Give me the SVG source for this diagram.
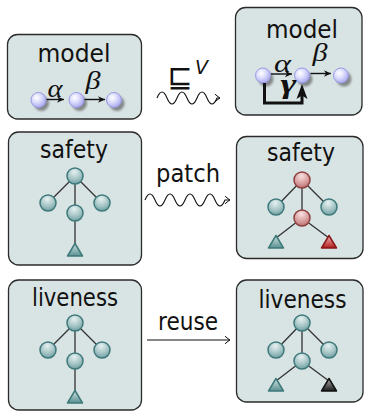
<svg xmlns="http://www.w3.org/2000/svg" width="365" height="411" viewBox="0 0 365 411">
<defs>
<style>
.box{fill:#d8e3e3;stroke:#2b2b2b;stroke-width:1.3}
.lbl{font-family:"DejaVu Sans","Liberation Sans",sans-serif;font-size:24px;fill:#111;text-anchor:middle}
.greek{font-family:"Liberation Serif","DejaVu Serif",serif;font-style:italic;font-size:25px;fill:#111;text-anchor:middle}
.edge{stroke:#333;stroke-width:1.3;fill:none}
.tn{fill:url(#gTeal);stroke:#3e797b;stroke-width:1.5}
.rn{fill:url(#gRed);stroke:#8c4040;stroke-width:1.5}
.tt{fill:url(#gTealT);stroke:#3e797b;stroke-width:1.5;stroke-linejoin:round}
.rt{fill:url(#gRedT);stroke:#8a1818;stroke-width:1.5;stroke-linejoin:round}
.kt{fill:url(#gBlackT);stroke:#111;stroke-width:1.5;stroke-linejoin:round}
.ln{fill:url(#gLav);stroke:#9a9ae6;stroke-width:1}
.sh{fill:#6a6a6a;opacity:0.75;filter:url(#blur)}
.conn{stroke:#111;stroke-width:1.1;fill:none}
.small{stroke:#111;stroke-width:1.4;fill:none}
</style>
<radialGradient id="gLav" cx="0.38" cy="0.35" r="0.7">
<stop offset="0" stop-color="#ffffff"/>
<stop offset="0.45" stop-color="#dcdcfc"/>
<stop offset="1" stop-color="#a4a4ee"/>
</radialGradient>
<radialGradient id="gTeal" cx="0.45" cy="0.25" r="0.85">
<stop offset="0" stop-color="#e6f0f0"/>
<stop offset="0.5" stop-color="#a9c7c8"/>
<stop offset="1" stop-color="#5f9497"/>
</radialGradient>
<radialGradient id="gRed" cx="0.45" cy="0.25" r="0.85">
<stop offset="0" stop-color="#f8e0e0"/>
<stop offset="0.5" stop-color="#dba4a4"/>
<stop offset="1" stop-color="#b35e5e"/>
</radialGradient>
<linearGradient id="gTealT" x1="0" y1="0" x2="0" y2="1">
<stop offset="0" stop-color="#d2e3e3"/>
<stop offset="1" stop-color="#5a9092"/>
</linearGradient>
<linearGradient id="gRedT" x1="0" y1="0" x2="0" y2="1">
<stop offset="0" stop-color="#f2b8b8"/>
<stop offset="1" stop-color="#b01c1c"/>
</linearGradient>
<linearGradient id="gBlackT" x1="0" y1="0" x2="0" y2="1">
<stop offset="0" stop-color="#b0b0b0"/>
<stop offset="1" stop-color="#1a1a1a"/>
</linearGradient>
<filter id="blur" x="-50%" y="-50%" width="200%" height="200%">
<feGaussianBlur stdDeviation="0.9"/>
</filter>
<marker id="open" markerUnits="userSpaceOnUse" markerWidth="12" markerHeight="12" viewBox="-7 -6 8 12" refX="0" refY="0" orient="auto">
<path d="M-5,-3.8 Q-1.5,-0.8 0,0 Q-1.5,0.8 -5,3.8" stroke="#111" stroke-width="1" fill="none"/>
</marker>
<marker id="solid" markerUnits="userSpaceOnUse" markerWidth="10" markerHeight="10" viewBox="-8 -5 9 10" refX="0" refY="0" orient="auto">
<path d="M0,0 L-7,-3.3 L-5,0 L-7,3.3 Z" fill="#111"/>
</marker>
</defs>

<g id="model-left">
<rect class="box" x="7.5" y="34.5" width="134" height="84.5" rx="10"/>
<text class="lbl" x="74" y="62" textLength="73" lengthAdjust="spacingAndGlyphs">model</text>
<circle class="sh" cx="41.5" cy="103.5" r="7.5"/>
<circle class="sh" cx="79.5" cy="103.5" r="7.5"/>
<circle class="sh" cx="117" cy="103.5" r="7.5"/>
<circle class="ln" cx="38.5" cy="100" r="7.5"/>
<circle class="ln" cx="76.5" cy="100" r="7.5"/>
<circle class="ln" cx="114" cy="100" r="7.5"/>
<text class="greek" x="55" y="97" textLength="15" lengthAdjust="spacingAndGlyphs">α</text>
<text class="greek" x="93" y="88.5" textLength="15" lengthAdjust="spacingAndGlyphs">β</text>
</g>

<g id="model-right">
<rect class="box" x="235.5" y="7.5" width="126.5" height="107.5" rx="10"/>
<text class="lbl" x="302" y="37.5" textLength="72" lengthAdjust="spacingAndGlyphs">model</text>
<circle class="sh" cx="266" cy="79" r="7.5"/>
<circle class="sh" cx="305" cy="79" r="7.5"/>
<circle class="sh" cx="344" cy="79" r="7.5"/>
<circle class="ln" cx="263" cy="75.5" r="7.5"/>
<circle class="ln" cx="302" cy="75.5" r="7.5"/>
<circle class="ln" cx="341" cy="75.5" r="7.5"/>
<text class="greek" x="282.5" y="72" textLength="17" lengthAdjust="spacingAndGlyphs">α</text>
<text class="greek" x="320" y="61" textLength="15" lengthAdjust="spacingAndGlyphs">β</text>
<text class="greek" x="288.5" y="93" textLength="16" lengthAdjust="spacingAndGlyphs" style="font-weight:bold;font-size:27px">γ</text>
</g>

<g id="safety-left">
<rect class="box" x="8.5" y="132" width="133" height="133" rx="10"/>
<text class="lbl" x="74" y="158" textLength="68" lengthAdjust="spacingAndGlyphs">safety</text>
<path class="edge" d="M75,176 L48,203 M75,176 L102,203 M75,176 L75,213 M75,213 L75,245"/>
<circle class="tn" cx="75" cy="176" r="8"/>
<circle class="tn" cx="48" cy="203" r="8"/>
<circle class="tn" cx="102" cy="203" r="8"/>
<circle class="tn" cx="75" cy="213" r="8"/>
<polygon class="tt" points="75,243.5 82.5,256 67.5,256"/>
</g>

<g id="safety-right">
<rect class="box" x="236.5" y="136.5" width="126.5" height="122" rx="10"/>
<text class="lbl" x="301" y="161" textLength="68" lengthAdjust="spacingAndGlyphs">safety</text>
<path class="edge" d="M302,180 L276,207 M302,180 L329,207 M302,180 L302,218 M302,218 L276,238 M302,218 L329,238"/>
<circle class="rn" cx="302" cy="180" r="8"/>
<circle class="tn" cx="276" cy="207" r="8"/>
<circle class="tn" cx="329" cy="207" r="8"/>
<circle class="rn" cx="302" cy="218" r="8"/>
<polygon class="tt" points="276,235.5 283.5,248 268.5,248"/>
<polygon class="rt" points="329,235.5 336.5,248 321.5,248"/>
</g>

<g id="liveness-left">
<rect class="box" x="8.5" y="280" width="133" height="130" rx="10"/>
<text class="lbl" x="75" y="306" textLength="86" lengthAdjust="spacingAndGlyphs">liveness</text>
<path class="edge" d="M75,323 L48,350 M75,323 L102,350 M75,323 L75,361 M75,361 L75,392"/>
<circle class="tn" cx="75" cy="323" r="8"/>
<circle class="tn" cx="48" cy="350" r="8"/>
<circle class="tn" cx="102" cy="350" r="8"/>
<circle class="tn" cx="75" cy="361" r="8"/>
<polygon class="tt" points="75,390.5 82.5,403 67.5,403"/>
</g>

<g id="liveness-right">
<rect class="box" x="236.5" y="280" width="126.5" height="122" rx="10"/>
<text class="lbl" x="302.5" y="307.5" textLength="88" lengthAdjust="spacingAndGlyphs">liveness</text>
<path class="edge" d="M302,323 L276,350 M302,323 L329,350 M302,323 L302,361 M302,361 L276,381 M302,361 L329,381"/>
<circle class="tn" cx="302" cy="323" r="8"/>
<circle class="tn" cx="276" cy="350" r="8"/>
<circle class="tn" cx="329" cy="350" r="8"/>
<circle class="tn" cx="302" cy="361" r="8"/>
<polygon class="tt" points="276,378.5 283.5,391 268.5,391"/>
<polygon class="kt" points="329,378.5 336.5,391 321.5,391"/>
</g>

<g id="connectors">
<path class="small" d="M46.5,99.5 H64" marker-end="url(#solid)"/>
<path class="small" d="M84.5,99.5 H105" marker-end="url(#solid)"/>
<path class="small" d="M271,74 H292" marker-end="url(#solid)"/>
<path class="small" d="M310.5,73.5 H331" marker-end="url(#solid)"/>
<path d="M264.5,83 V103 H302 V93" stroke="#111" stroke-width="3" fill="none"/>
<polygon points="302,84 307.5,99 302,95.5 296.5,99" fill="#111"/>
<path class="conn" d="M157,98 q5,-12 10,0 t10,0 t10,0 t10,0 t10,0 t10,0 h3" marker-end="url(#open)"/>
<text x="180" y="87" style="font-family:'DejaVu Sans',sans-serif;font-size:30px;fill:#111;text-anchor:middle">⊑</text>
<text x="201.5" y="74" style="font-family:'DejaVu Sans',sans-serif;font-style:italic;font-size:19px;fill:#111;text-anchor:middle">V</text>
<path class="conn" d="M145,200 q5,-12 10,0 t10,0 t10,0 t10,0 t10,0 t10,0 t10,0 t10,0 h5" marker-end="url(#open)"/>
<text class="lbl" x="188" y="181.5" textLength="64" lengthAdjust="spacingAndGlyphs">patch</text>
<path class="conn" d="M147,340 H230" marker-end="url(#open)"/>
<text class="lbl" x="188" y="330" textLength="60" lengthAdjust="spacingAndGlyphs">reuse</text>
</g>
</svg>
